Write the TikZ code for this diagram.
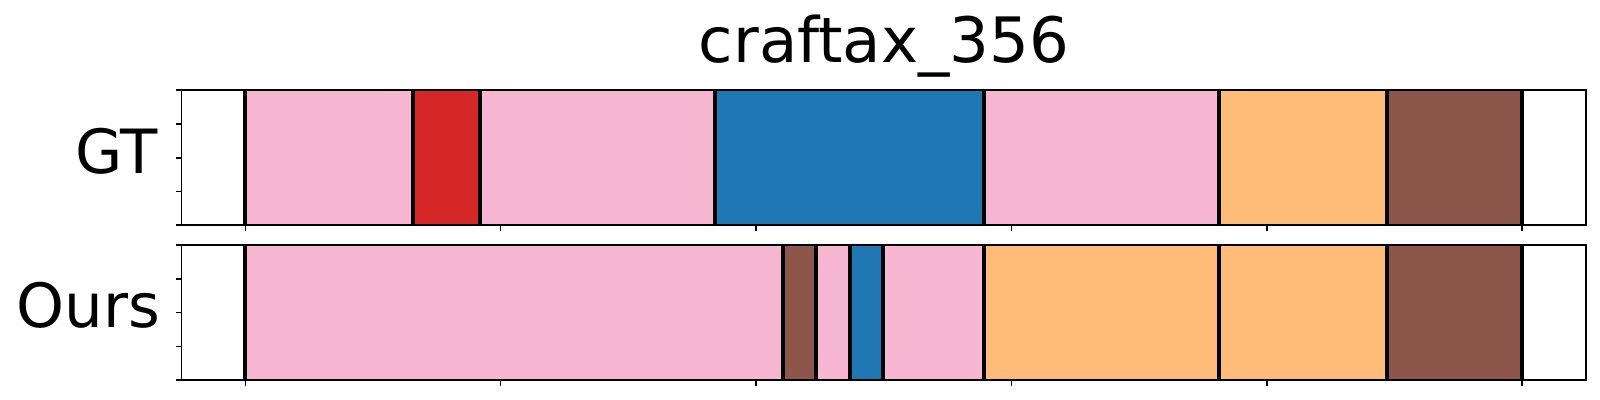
\documentclass[tikz,border=0pt]{standalone}
\usepackage{fontspec}
\setmainfont{DejaVu Sans}
\definecolor{tpink}{HTML}{F7B6D2}
\definecolor{tred}{HTML}{D62728}
\definecolor{tblue}{HTML}{1F77B4}
\definecolor{torange}{HTML}{FFBB78}
\definecolor{tbrown}{HTML}{8C564B}
\begin{document}
\begin{tikzpicture}[x=0.5pt,y=-0.5pt,
  segline/.style={line width=2pt,black},
  axframe/.style={line width=0.8pt,black},
  axtick/.style={line width=0.8pt,black},
  bigtitle/.style={font=\fontsize{31.3}{38}\selectfont,inner sep=0pt},
  rowlabel/.style={font=\fontsize{30.5}{36}\selectfont,inner sep=0pt,anchor=base east}]
\useasboundingbox (0,0) rectangle (1600,400);
\fill[white] (0,0) rectangle (1600,400);
% GT row
\foreach \a/\b/\c in {245.3/413/tpink,413/480/tred,480/715/tpink,715/983.7/tblue,983.7/1219/tpink,1219/1387/torange,1387/1521.7/tbrown}
  \fill[\c] (\a,90.3) rectangle (\b,225.3);
\foreach \x in {245.3,413,480,715,983.7,1219,1387,1521.7}
  \draw[segline] (\x,90.3) -- (\x,225.3);
\draw[axframe] (181.3,90.3) rectangle (1585.7,225.3);
\foreach \y in {90.3,124.05,157.8,191.55,225.3}
  \draw[axtick] (181.3,\y) -- ++(-5.5,0);
\foreach \x in {245.3,500.6,756,1011.3,1266.7,1522}
  \draw[axtick] (\x,225.3) -- ++(0,5.5);
% Ours row
\foreach \a/\b/\c in {245.3/782.7/tpink,782.7/816/tbrown,816/849.7/tpink,849.7/883/tblue,883/983.7/tpink,983.7/1219/torange,1219/1387/torange,1387/1521.7/tbrown}
  \fill[\c] (\a,245) rectangle (\b,380.3);
\foreach \x in {245.3,782.7,816,849.7,883,983.7,1219,1387,1521.7}
  \draw[segline] (\x,245) -- (\x,380.3);
\draw[axframe] (181.3,245) rectangle (1585.7,380.3);
\foreach \y in {245,278.8,312.65,346.5,380.3}
  \draw[axtick] (181.3,\y) -- ++(-5.5,0);
\foreach \x in {245.3,500.6,756,1011.3,1266.7,1522}
  \draw[axtick] (\x,380.3) -- ++(0,5.5);
% texts
\node[bigtitle,anchor=base] (title) at (884,62.7) {craftax\_356};
\node[rowlabel] (gt) at (158,174) {GT};
\node[rowlabel] (ours) at (160.5,327.7) {Ours};
\end{tikzpicture}
\end{document}
